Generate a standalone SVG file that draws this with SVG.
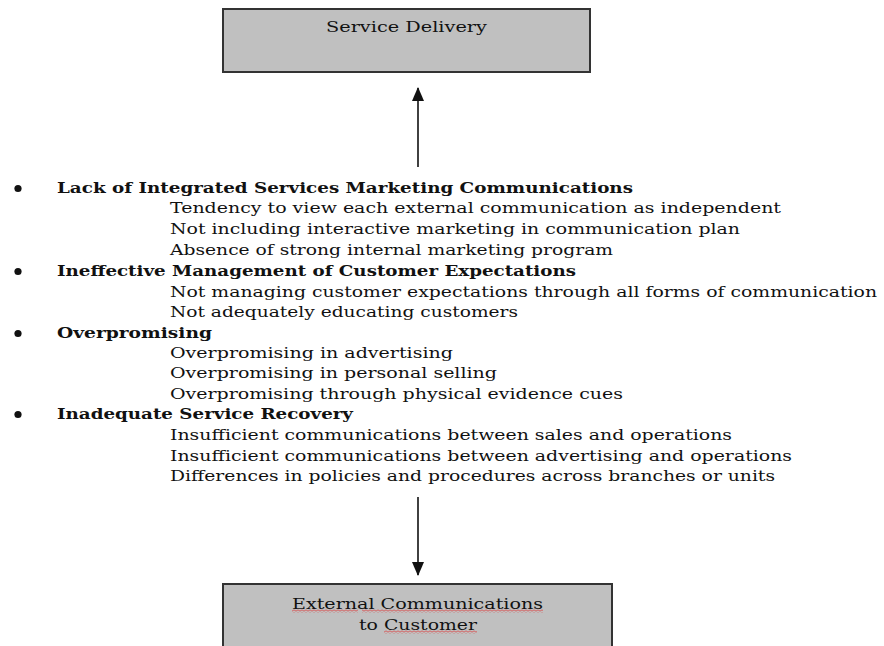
<svg xmlns="http://www.w3.org/2000/svg" width="884" height="646" viewBox="0 0 884 646">
  <style>
    .box { fill: #c0c0c0; stroke: #333333; stroke-width: 2; }
    .t { font-family: "DejaVu Serif", "Liberation Serif", serif; font-size: 15px; fill: #111111; }
    .b { font-weight: bold; }
    .bul { fill: #111111; }
    .conn { stroke: #111111; stroke-width: 1.6; fill: none; }
  </style>
  <defs>
    <marker id="arrow" viewBox="0 0 14 12" refX="13" refY="6" markerWidth="14" markerHeight="12" markerUnits="userSpaceOnUse" orient="auto">
      <path d="M0,0 L14,6 L0,12 Z" fill="#111111"/>
    </marker>
    <pattern id="squig" x="0" y="0" width="4" height="3" patternUnits="userSpaceOnUse">
      <polyline points="0,2.5 2,0.5 4,2.5" fill="none" stroke="#e03030" stroke-width="0.9"/>
    </pattern>
  </defs>
  <rect width="884" height="646" fill="#ffffff"/>

  <g id="service-delivery">
    <rect class="box" x="223" y="9" width="367" height="63"/>
    <text class="t" x="326" y="31.5" textLength="161" lengthAdjust="spacingAndGlyphs">Service Delivery</text>
  </g>

  <g id="external-communications">
    <rect class="box" x="223" y="584" width="389" height="70"/>
    <text class="t" x="292" y="609" textLength="251" lengthAdjust="spacingAndGlyphs">External Communications</text>
    <text class="t" x="359" y="630" textLength="118" lengthAdjust="spacingAndGlyphs">to Customer</text>
    <rect x="292" y="609.5" width="66" height="3" fill="url(#squig)"/>
    <rect x="362" y="609.5" width="181" height="3" fill="url(#squig)"/>
    <rect x="384" y="630.5" width="93" height="3" fill="url(#squig)"/>
  </g>

  <g id="gap-factors">
    <circle class="bul" cx="18" cy="188.5" r="3.6"/>
    <text class="t b" x="57" y="193" textLength="576" lengthAdjust="spacingAndGlyphs">Lack of Integrated Services Marketing Communications</text>
    <text class="t" x="170" y="213" textLength="611" lengthAdjust="spacingAndGlyphs">Tendency to view each external communication as independent</text>
    <text class="t" x="170" y="234" textLength="570" lengthAdjust="spacingAndGlyphs">Not including interactive marketing in communication plan</text>
    <text class="t" x="170" y="255" textLength="443" lengthAdjust="spacingAndGlyphs">Absence of strong internal marketing program</text>

    <circle class="bul" cx="18" cy="271.5" r="3.6"/>
    <text class="t b" x="57" y="276" textLength="519" lengthAdjust="spacingAndGlyphs">Ineffective Management of Customer Expectations</text>
    <text class="t" x="170" y="297" textLength="707" lengthAdjust="spacingAndGlyphs">Not managing customer expectations through all forms of communication</text>
    <text class="t" x="170" y="317" textLength="348" lengthAdjust="spacingAndGlyphs">Not adequately educating customers</text>

    <circle class="bul" cx="18" cy="333.5" r="3.6"/>
    <text class="t b" x="57" y="338" textLength="155" lengthAdjust="spacingAndGlyphs">Overpromising</text>
    <text class="t" x="170" y="358" textLength="283" lengthAdjust="spacingAndGlyphs">Overpromising in advertising</text>
    <text class="t" x="170" y="378" textLength="327" lengthAdjust="spacingAndGlyphs">Overpromising in personal selling</text>
    <text class="t" x="170" y="399" textLength="453" lengthAdjust="spacingAndGlyphs">Overpromising through physical evidence cues</text>

    <circle class="bul" cx="18" cy="414.5" r="3.6"/>
    <text class="t b" x="57" y="419" textLength="296" lengthAdjust="spacingAndGlyphs">Inadequate Service Recovery</text>
    <text class="t" x="170" y="440" textLength="562" lengthAdjust="spacingAndGlyphs">Insufficient communications between sales and operations</text>
    <text class="t" x="170" y="461" textLength="622" lengthAdjust="spacingAndGlyphs">Insufficient communications between advertising and operations</text>
    <text class="t" x="170" y="481" textLength="605" lengthAdjust="spacingAndGlyphs">Differences in policies and procedures across branches or units</text>
  </g>

  <g id="connectors">
    <line class="conn" x1="418" y1="167" x2="418" y2="88" marker-end="url(#arrow)"/>
    <line class="conn" x1="418" y1="497" x2="418" y2="575" marker-end="url(#arrow)"/>
  </g>
</svg>
